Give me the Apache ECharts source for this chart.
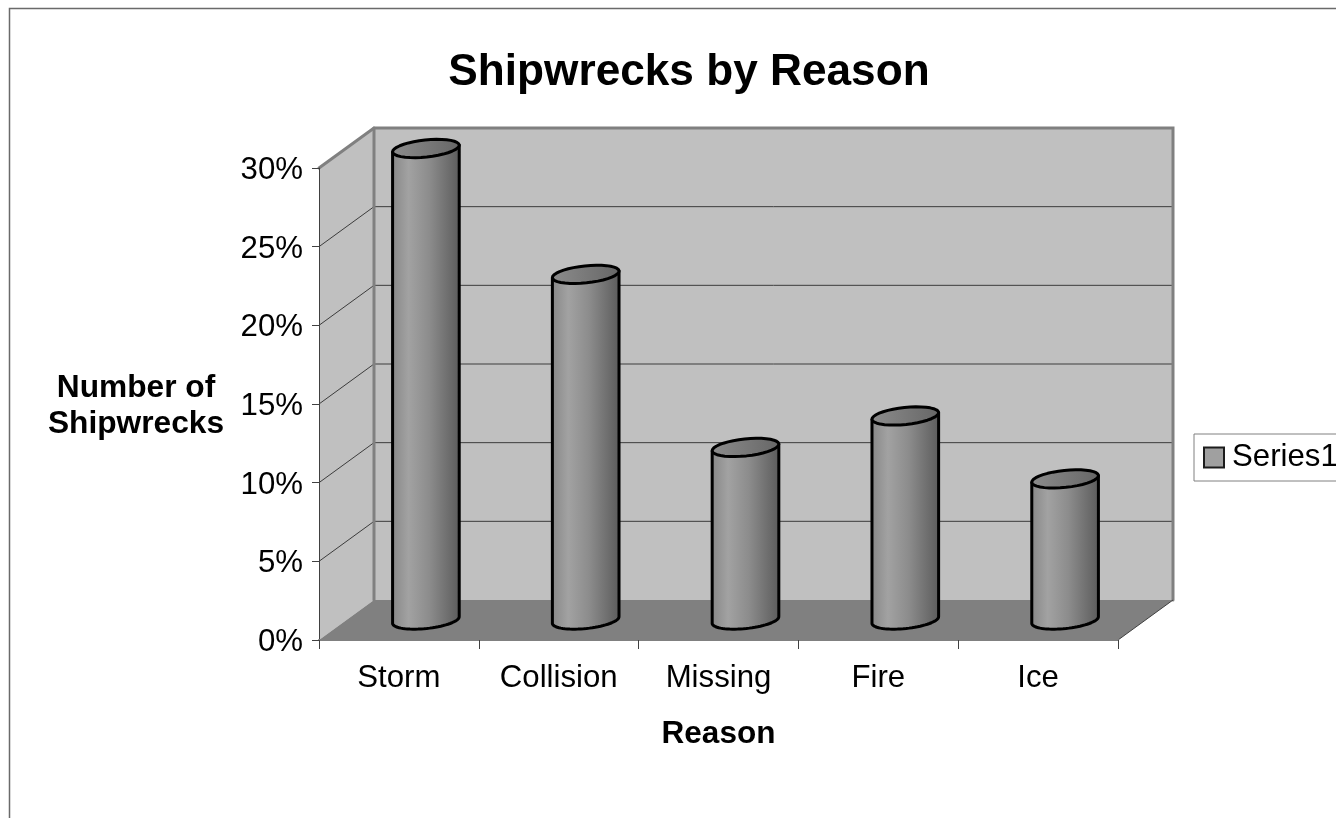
<!DOCTYPE html>
<html>
<head>
<meta charset="utf-8">
<style>html,body{margin:0;padding:0;background:#fff}#c{width:1336px;height:818px}</style>
<script src="https://cdn.jsdelivr.net/npm/echarts@6/dist/echarts.min.js"></script>
</head>
<body>
<div id="c"></div>
<script>
var categories = ['Storm', 'Collision', 'Missing', 'Fire', 'Ice'];
var shipwreckShare = [30, 22, 11, 13, 9];
var seriesName = 'Series1';
var wallTicks = [5, 10, 15, 20, 25];

var FONT = '"Liberation Sans", Arial, sans-serif';
var DX = 55, DY = -40;
var RX = 33.5, RY = 8.5, TILT = 6 * Math.PI / 180;

function ellipsePoint(cx, cy, t) {
  var x = RX * Math.cos(t), y = RY * Math.sin(t);
  return [cx + x * Math.cos(TILT) + y * Math.sin(TILT), cy - x * Math.sin(TILT) + y * Math.cos(TILT)];
}
function arcPoints(cx, cy, from, to) {
  var pts = [], n = 36;
  for (var i = 0; i <= n; i++) pts.push(ellipsePoint(cx, cy, from + (to - from) * i / n));
  return pts;
}
function hGrad(stops) {
  return new echarts.graphic.LinearGradient(0, 0, 1, 0, stops);
}

function renderWalls(params, api) {
  var cs = params.coordSys;
  var l = cs.x, r = cs.x + cs.width, b = cs.y + cs.height, t = cs.y;
  var kids = [];
  var edge = { stroke: '#808080', lineWidth: 3, lineCap: 'round' };
  kids.push({ type: 'polygon', shape: { points: [[l, b], [l + DX, b + DY], [l + DX, t + DY], [l, t]] }, style: { fill: '#c0c0c0' } });
  kids.push({ type: 'polygon', shape: { points: [[l + DX, b + DY], [r + DX, b + DY], [r + DX, t + DY], [l + DX, t + DY]] }, style: { fill: '#c0c0c0' } });
  kids.push({ type: 'polygon', shape: { points: [[l, b], [r, b], [r + DX, b + DY], [l + DX, b + DY]] }, style: { fill: '#808080' } });
  wallTicks.forEach(function (v) {
    var y = api.coord([0, v])[1];
    kids.push({ type: 'polyline', shape: { points: [[l, y], [l + DX, y + DY], [r + DX, y + DY]] }, style: { stroke: '#3c3c3c', lineWidth: 1, fill: null } });
  });
  kids.push({ type: 'polyline', shape: { points: [[l, t], [l + DX, t + DY], [r + DX, t + DY], [r + DX, b + DY]] }, style: Object.assign({ fill: null }, edge) });
  kids.push({ type: 'line', shape: { x1: l + DX, y1: t + DY, x2: l + DX, y2: b + DY }, style: edge });
  kids.push({ type: 'line', shape: { x1: r, y1: b, x2: r + DX, y2: b + DY }, style: { stroke: '#404040', lineWidth: 1 } });
  return { type: 'group', children: kids };
}

function renderCylinder(params, api) {
  var cat = api.value(0), val = api.value(1);
  var top = api.coord([cat, val]), base = api.coord([cat, 0]);
  var cx = top[0] + DX / 2 - 0.5, topY = top[1] + DY / 2 + 0.5, baseY = base[1] + DY / 2;
  var outline = [ellipsePoint(cx, topY, Math.PI)]
    .concat(arcPoints(cx, baseY, Math.PI, 0))
    .concat([ellipsePoint(cx, topY, 0)]);
  return {
    type: 'group',
    children: [
      {
        type: 'polygon', shape: { points: outline },
        style: {
          fill: hGrad([
            { offset: 0, color: '#868686' }, { offset: 0.25, color: '#a2a2a2' },
            { offset: 0.55, color: '#8c8c8c' }, { offset: 1, color: '#5a5a5a' }
          ]),
          stroke: '#000', lineWidth: 3, lineJoin: 'round'
        }
      },
      {
        type: 'polygon', shape: { points: arcPoints(cx, topY, 0, 2 * Math.PI) },
        style: {
          fill: hGrad([{ offset: 0, color: '#8c8c8c' }, { offset: 1, color: '#666666' }]),
          stroke: '#000', lineWidth: 3, lineJoin: 'round'
        }
      }
    ]
  };
}

var labelFont = { fontFamily: FONT, fontSize: 31.2, color: '#000' };
var nameFont = { fontFamily: FONT, fontSize: 31.7, fontWeight: 'bold', color: '#000', lineHeight: 36 };

var chart = echarts.init(document.getElementById('c'), null, { renderer: 'canvas' });
chart.setOption({
  animation: false,
  backgroundColor: '#fff',
  textStyle: { fontFamily: FONT },
  title: {
    text: 'Shipwrecks by Reason', left: 684, top: 46, textAlign: 'center',
    textStyle: { fontFamily: FONT, fontSize: 44.2, fontWeight: 'bold', color: '#000' }
  },
  legend: {
    left: 1194, top: 434, orient: 'horizontal',
    padding: [8, 30, 8, 9], itemGap: 0, itemWidth: 20, itemHeight: 20,
    borderColor: '#808080', borderWidth: 1, backgroundColor: '#fff',
    textStyle: { fontFamily: FONT, fontSize: 31.2, color: '#000', padding: [3, 0, 0, 3] },
    data: [{ name: seriesName, icon: 'rect', itemStyle: { color: '#a0a0a0', borderColor: '#1c1c1c', borderWidth: 2 } }]
  },
  grid: { left: 319, top: 168, width: 799, height: 472 },
  xAxis: {
    type: 'category', data: categories, boundaryGap: true, z: 6,
    name: 'Reason', nameLocation: 'middle', nameGap: 78,
    nameTextStyle: { fontFamily: FONT, fontSize: 31.5, fontWeight: 'bold', color: '#000' },
    axisLine: { lineStyle: { color: '#808080', width: 2 } },
    axisTick: { show: true, length: 9, lineStyle: { color: '#404040', width: 1 } },
    axisLabel: Object.assign({ interval: 0, margin: 23 }, labelFont)
  },
  yAxis: {
    type: 'value', min: 0, max: 30, interval: 5, z: 6,
    name: '{a|Number of}\n{b|Shipwrecks}', nameLocation: 'middle', nameGap: 183, nameRotate: 0,
    nameTextStyle: Object.assign({
      align: 'center',
      rich: {
        a: Object.assign({ padding: [4, 0, 0, 0] }, nameFont),
        b: Object.assign({ padding: [4, 0, 0, 0] }, nameFont)
      }
    }, nameFont),
    axisLine: { show: true, lineStyle: { color: '#404040', width: 1 } },
    axisTick: { show: true, length: 7, lineStyle: { color: '#404040', width: 1 } },
    axisLabel: Object.assign({
      margin: 16, formatter: '{t|{value}%}',
      rich: { t: Object.assign({ padding: [5, 0, 0, 0] }, labelFont) }
    }, labelFont),
    splitLine: { show: false }
  },
  series: [
    { type: 'custom', name: 'walls', silent: true, z: 1, clip: false, renderItem: renderWalls, data: [[0, 0]], encode: { x: 0, y: 1 } },
    { type: 'custom', name: seriesName, z: 3, clip: false, renderItem: renderCylinder,
      itemStyle: { color: '#a0a0a0' },
      data: shipwreckShare.map(function (v, i) { return [i, v]; }), encode: { x: 0, y: 1 } }
  ],
  graphic: [{
    type: 'polyline', silent: true, z: 10,
    shape: { points: [[9.5, 818], [9.5, 8.5], [1336, 8.5]] },
    style: { stroke: '#6a6a6a', lineWidth: 1.5, fill: null }
  }]
});
</script>
</body>
</html>
